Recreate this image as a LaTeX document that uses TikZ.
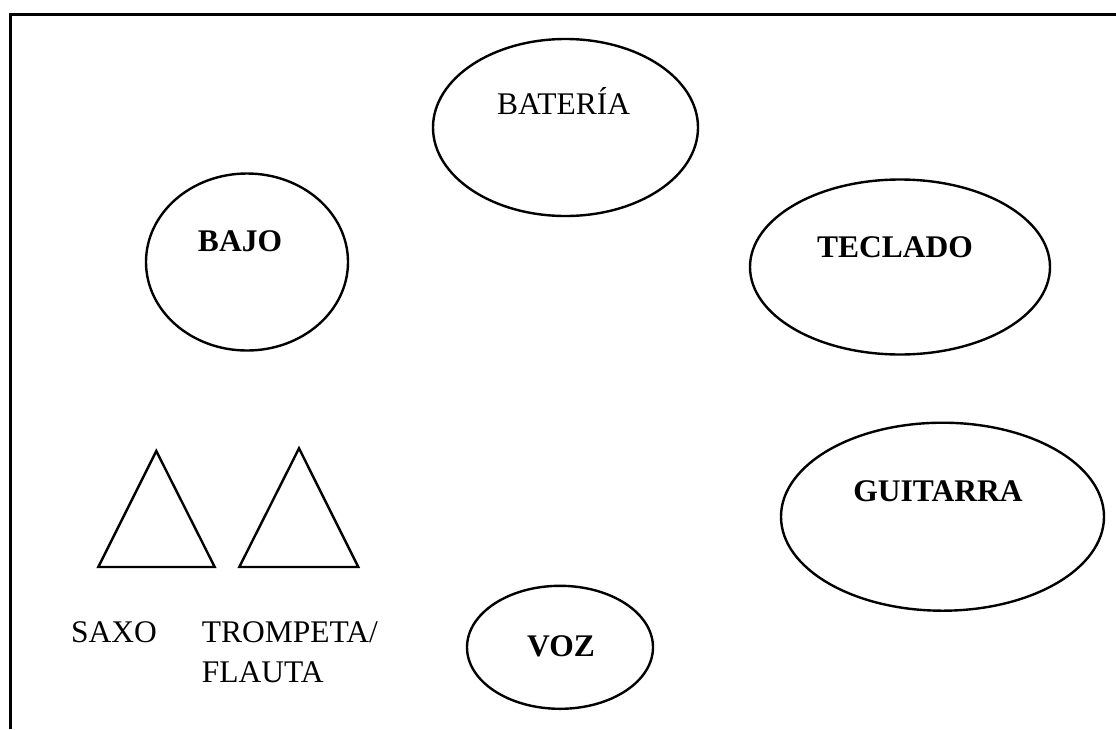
\documentclass[tikz,border=0pt]{standalone}
\usepackage{fontspec}
\setmainfont{Liberation Serif}
\usetikzlibrary{shapes.geometric}
\begin{document}
\begin{tikzpicture}[x=1pt,y=-1pt,
  shapeline/.style={draw=black,line width=2.4pt},
  oval/.style={shapeline,ellipse,inner sep=0pt},
  lbl/.style={inner sep=0pt,font=\fontsize{31.5}{39.6}\selectfont},
  blbl/.style={lbl,font=\fontsize{31.5}{39.6}\selectfont\bfseries}]
\useasboundingbox (0,0) rectangle (1116,729);
% frame
\coordinate (fb) at (10,729);
\coordinate (ftl) at (10,14);
\coordinate (fr) at (1116,14);
\draw[line width=3pt] (fb) -- (ftl) -- (fr);
% ellipses
\node[oval,minimum width=265pt,minimum height=177pt] (bateria) at (565.5,127.5) {};
\node[oval,minimum width=202pt,minimum height=177pt] (bajo) at (247,262) {};
\node[oval,minimum width=300pt,minimum height=175pt] (teclado) at (900,267) {};
\node[oval,minimum width=323pt,minimum height=188pt] (guitarra) at (942.5,516.7) {};
\node[oval,minimum width=186pt,minimum height=123pt] (voz) at (560,647.3) {};
% texts
\node[lbl,anchor=base] (tbateria) at (563.5,114) {BATERÍA};
\node[blbl,anchor=base] (tbajo) at (240,251) {BAJO};
\node[blbl,anchor=base] (tteclado) at (895,257) {TECLADO};
\node[blbl,anchor=base] (tguitarra) at (938,501.7) {GUITARRA};
\node[blbl,anchor=base] (tvoz) at (561,656) {VOZ};
\node[lbl,anchor=base west] (tsaxo) at (71,642.7) {SAXO};
\node[lbl,anchor=base west] (ttrompeta) at (201.7,642.7) {TROMPETA/};
\node[lbl,anchor=base west] (tflauta) at (201.7,682.3) {FLAUTA};
% triangles
\coordinate (s1) at (156.3,451);
\coordinate (s2) at (98.3,567);
\coordinate (s3) at (214.7,567);
\draw[shapeline,line join=miter] (s1) -- (s2) -- (s3) -- cycle;
\coordinate (t1) at (299,448.3);
\coordinate (t2) at (239.3,567);
\coordinate (t3) at (358.3,567);
\draw[shapeline,line join=miter] (t1) -- (t2) -- (t3) -- cycle;
\end{tikzpicture}
\end{document}
